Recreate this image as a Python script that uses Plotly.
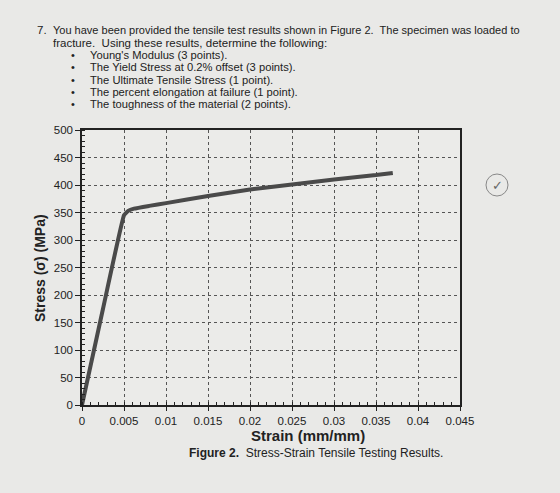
import plotly.graph_objects as go

strain = [0.0, 0.0025, 0.0050, 0.0055, 0.0062, 0.0080, 0.0100, 0.0150, 0.0200, 0.0250, 0.0300, 0.0350, 0.0370]
stress = [0, 175, 345, 353, 357, 362, 367, 380, 392, 401, 410, 418, 422]

x_ticks = [0, 0.005, 0.01, 0.015, 0.02, 0.025, 0.03, 0.035, 0.04, 0.045]
x_labels = ["0", "0.005", "0.01", "0.015", "0.02", "0.025", "0.03", "0.035", "0.04", "0.045"]
y_ticks = [0, 50, 100, 150, 200, 250, 300, 350, 400, 450, 500]

question = ["7.", "You have been provided the tensile test results shown in Figure 2.  The specimen was loaded to",
            "fracture.  Using these results, determine the following:"]
bullets = ["Young's Modulus (3 points).",
           "The Yield Stress at 0.2% offset (3 points).",
           "The Ultimate Tensile Stress (1 point).",
           "The percent elongation at failure (1 point).",
           "The toughness of the material (2 points)."]
caption = "<b>Figure 2.</b>  Stress-Strain Tensile Testing Results."

W, H = 560, 493
L, R, T, B = 82, 100, 130, 88
pw, ph = W - L - R, H - T - B

def px(x, y):
    return (x - L) / pw, (H - B - y) / ph

fig = go.Figure()
fig.add_trace(go.Scatter(x=strain, y=stress, mode="lines",
                         line=dict(color="#4a4a4a", width=4, shape="spline", smoothing=0.3),
                         hoverinfo="skip"))

font = "Liberation Sans, Arial, sans-serif"
anns = []
def txt(x, y, s, size=10.5, anchor="left", bold=False, **kw):
    xx, yy = px(x, y)
    anns.append(dict(x=xx, y=yy, xref="paper", yref="paper", text=(f"<b>{s}</b>" if bold else s),
                     showarrow=False, xanchor=anchor, yanchor="middle", borderpad=0,
                     font=dict(family=font, size=size, color="#222"), **kw))

txt(36, 30, question[0], 11.5)
txt(52, 30, question[1], 11)
txt(52, 43, question[2], 11.5)
for i, b in enumerate(bullets):
    y = 55 + i * 12.3
    txt(70, y, "•", 11)
    txt(89, y, b, 11.2)
txt(316, 453, caption, 12, anchor="center")
txt(308, 435, "Strain (mm/mm)", 15, anchor="center", bold=True)
xx, yy = px(40, 268)
anns.append(dict(x=xx, y=yy, xref="paper", yref="paper", text="<b>Stress (σ) (MPa)</b>",
                 showarrow=False, textangle=-90, xanchor="center", yanchor="middle",
                 font=dict(family=font, size=14, color="#222")))
xx, yy = px(497, 185)
anns.append(dict(x=xx, y=yy, xref="paper", yref="paper", text="✓", showarrow=False,
                 xanchor="center", yanchor="middle",
                 font=dict(family="DejaVu Sans", size=13, color="#666")))

shapes = []
x0, y0 = px(486, 196)
x1, y1 = px(508, 174)
shapes.append(dict(type="circle", xref="paper", yref="paper", x0=x0, y0=y0, x1=x1, y1=y1,
                   line=dict(color="#888", width=1)))

fig.update_layout(
    width=W, height=H, margin=dict(l=L, r=R, t=T, b=B),
    paper_bgcolor="#e9e9e7", plot_bgcolor="#ebebe9",
    showlegend=False, annotations=anns, shapes=shapes,
    font=dict(family=font, size=11, color="#222"),
)
fig.update_xaxes(range=[0, 0.045], tickvals=x_ticks, ticktext=x_labels,
                 showline=True, linecolor="#222", linewidth=1.5, mirror=True,
                 ticks="outside", ticklen=4, tickcolor="#222",
                 minor=dict(dtick=0.001, ticks="inside", ticklen=3, tickcolor="#222", showgrid=False),
                 showgrid=True, gridcolor="#555", griddash="3px,3px", gridwidth=1,
                 zeroline=False, tickfont=dict(size=11.5), fixedrange=True)
fig.update_yaxes(range=[0, 500], tickvals=y_ticks,
                 showline=True, linecolor="#222", linewidth=1.5, mirror=True,
                 ticks="outside", ticklen=5, tickcolor="#222",
                 minor=dict(dtick=10, ticks="inside", ticklen=3, tickcolor="#222", showgrid=False),
                 showgrid=True, gridcolor="#555", griddash="3px,3px", gridwidth=1,
                 zeroline=False, tickfont=dict(size=11.5), fixedrange=True)

fig.write_html("out.html")
